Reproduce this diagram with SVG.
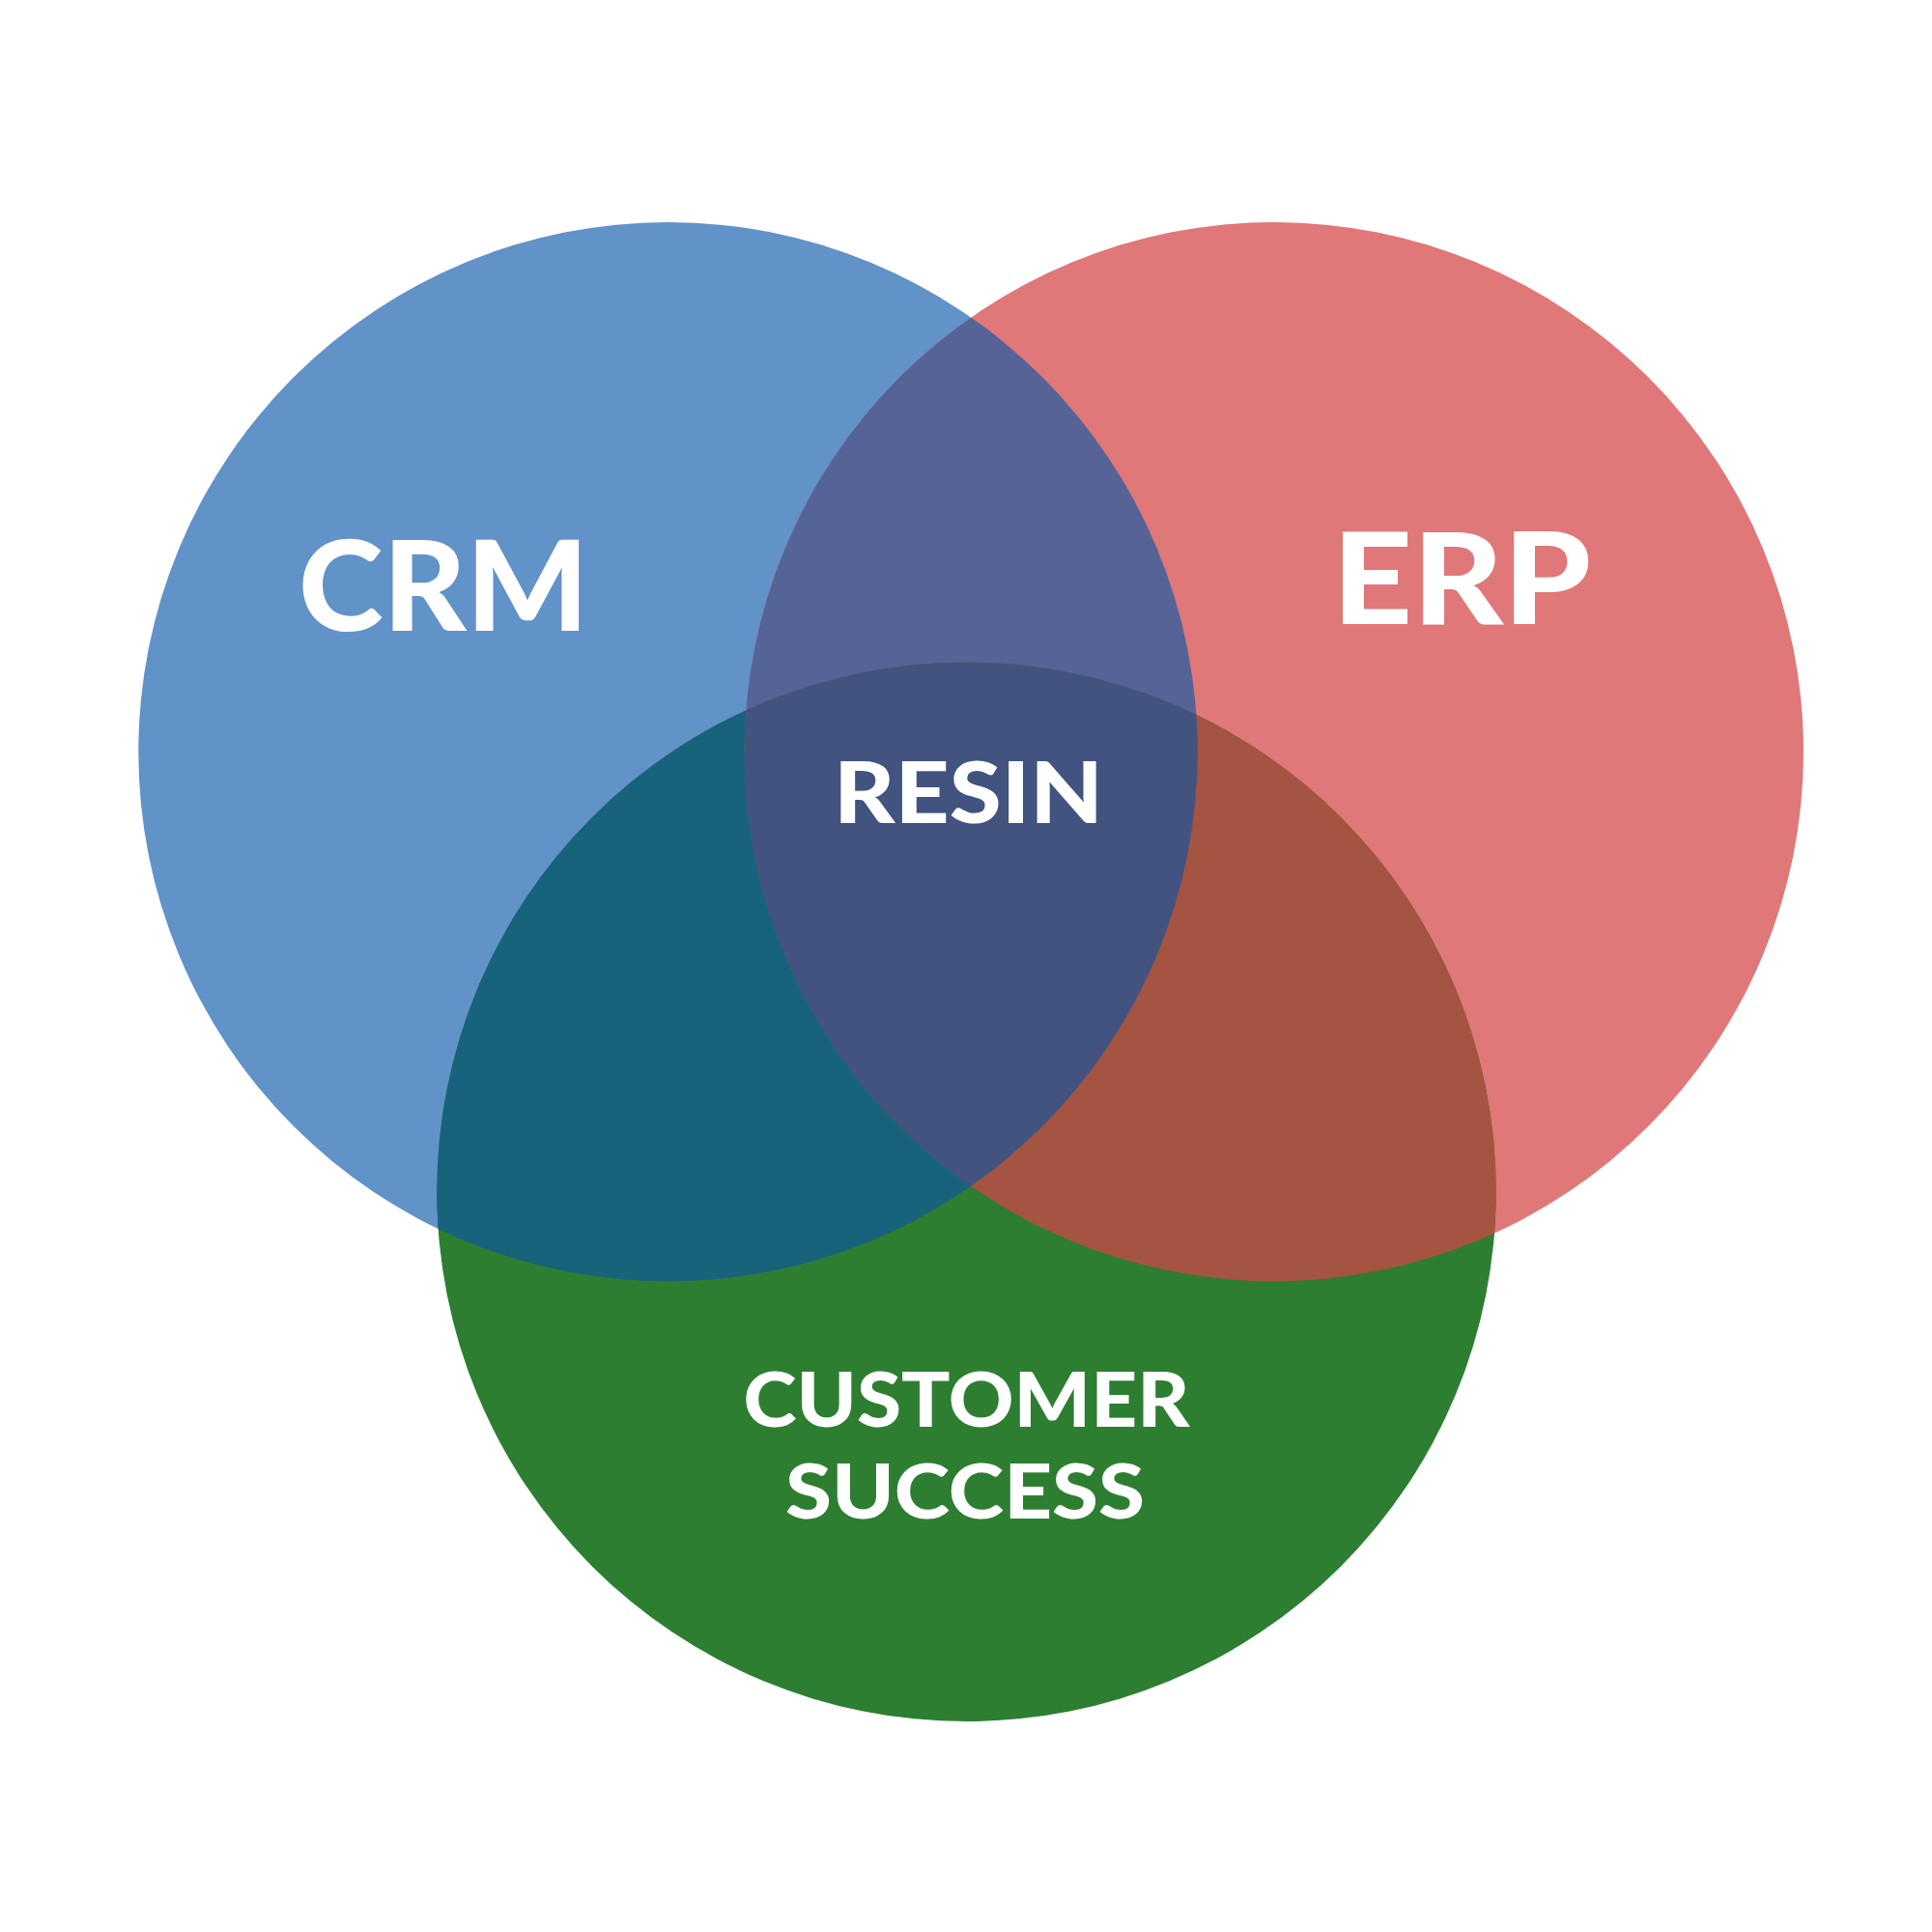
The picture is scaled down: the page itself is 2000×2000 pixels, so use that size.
<svg xmlns="http://www.w3.org/2000/svg" width="2000" height="2000" viewBox="0 0 2000 2000">
<style>
.lbl{font-family:Lato,"Liberation Sans",sans-serif;font-weight:900;fill:#ffffff}
</style>
<defs>
<clipPath id="cCRM"><circle cx="691.5" cy="778.2" r="548.2"/></clipPath>
<clipPath id="cERP"><circle cx="1318.8" cy="778.2" r="548.2"/></clipPath>
<clipPath id="cCS"><circle cx="1000.5" cy="1233.8" r="548.2"/></clipPath>
</defs>
<rect width="2000" height="2000" fill="#ffffff"/>
<g id="crm"><circle cx="691.5" cy="778.2" r="548.2" fill="#6192C8"/></g>
<g id="erp"><circle cx="1318.8" cy="778.2" r="548.2" fill="#E07778"/></g>
<g id="customer-success"><circle cx="1000.5" cy="1233.8" r="548.2" fill="#2D7E31"/></g>
<g id="overlaps">
<circle cx="1318.8" cy="778.2" r="548.2" fill="#556396" clip-path="url(#cCRM)"/>
<circle cx="1000.5" cy="1233.8" r="548.2" fill="#17637C" clip-path="url(#cCRM)"/>
<circle cx="1000.5" cy="1233.8" r="548.2" fill="#A45440" clip-path="url(#cERP)"/>
<g clip-path="url(#cCS)"><circle cx="1318.8" cy="778.2" r="548.2" fill="#425380" clip-path="url(#cCRM)"/></g>
</g>
<g id="connectors"></g>
<g id="labels">
<text class="lbl" x="309" y="652.5" font-size="129" textLength="300" lengthAdjust="spacingAndGlyphs">CRM</text>
<text class="lbl" x="1379" y="645.5" font-size="131" textLength="268" lengthAdjust="spacingAndGlyphs">ERP</text>
<text class="lbl" x="863" y="851.5" font-size="88" textLength="279" lengthAdjust="spacingAndGlyphs">RESIN</text>
<text class="lbl" x="769.5" y="1477.3" font-size="77.5" textLength="462" lengthAdjust="spacingAndGlyphs">CUSTOMER</text>
<text class="lbl" x="813" y="1571.5" font-size="77.5" textLength="372" lengthAdjust="spacingAndGlyphs">SUCCESS</text>
</g>
</svg>
